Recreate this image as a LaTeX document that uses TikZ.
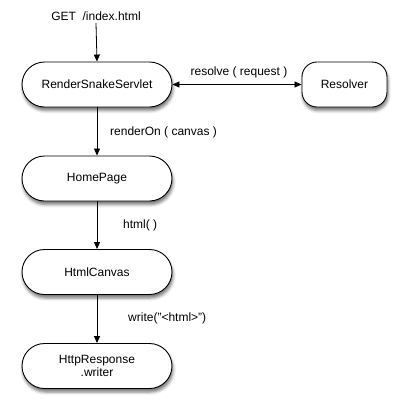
\documentclass[tikz,border=0pt]{standalone}
\usepackage{fontspec}
\setmainfont{Liberation Sans}
\usetikzlibrary{arrows.meta,shadows.blur}
\tikzset{
  box/.style={draw=black, line width=0.9pt, fill=white, rectangle, minimum height=45pt,
    align=center, font=\fontsize{12}{13.5}\selectfont,
    blur shadow={shadow xshift=1pt, shadow yshift=-3.5pt, shadow blur radius=3pt, shadow opacity=55}},
  wide/.style={box, minimum width=150pt, rounded corners=22.5pt},
  narrow/.style={box, minimum width=85pt, rounded corners=15pt},
  lbl/.style={font=\fontsize{12}{13.5}\selectfont, inner sep=0pt},
  conn/.style={line width=0.8pt, -{Triangle[length=7pt,width=6pt]}},
  dconn/.style={line width=0.8pt, {Triangle[length=7pt,width=6pt]}-{Triangle[length=7pt,width=6pt]}}
}
\begin{document}
\begin{tikzpicture}[x=1pt,y=-1pt]
\useasboundingbox (0,0) rectangle (406,413);
\node[lbl] (get) at (96,16) {GET\ \ /index.html};
\node[wide] (rss) at (97,84.5) {RenderSnakeServlet};
\node[narrow] (res) at (344.5,84.5) {Resolver};
\node[wide] (home) at (97,178.5) {HomePage};
\node[wide] (canvas) at (97,272) {HtmlCanvas};
\node[wide] (resp) at (97,366) {HttpResponse\\.writer};
\draw[conn] (get.south |- 0,23) -- (rss.north);
\draw[dconn] (rss) -- (res);
\node[lbl] (lres) at (239,72) {resolve ( request )};
\draw[conn] (rss) -- (home);
\node[lbl, anchor=west] (lrender) at (110,132) {renderOn ( canvas )};
\draw[conn] (home) -- (canvas);
\node[lbl, anchor=west] (lhtml) at (123,225) {html( )};
\draw[conn] (canvas) -- (resp);
\node[lbl, anchor=west] (lwrite) at (128,318) {write("<html>")};
\end{tikzpicture}
\end{document}
